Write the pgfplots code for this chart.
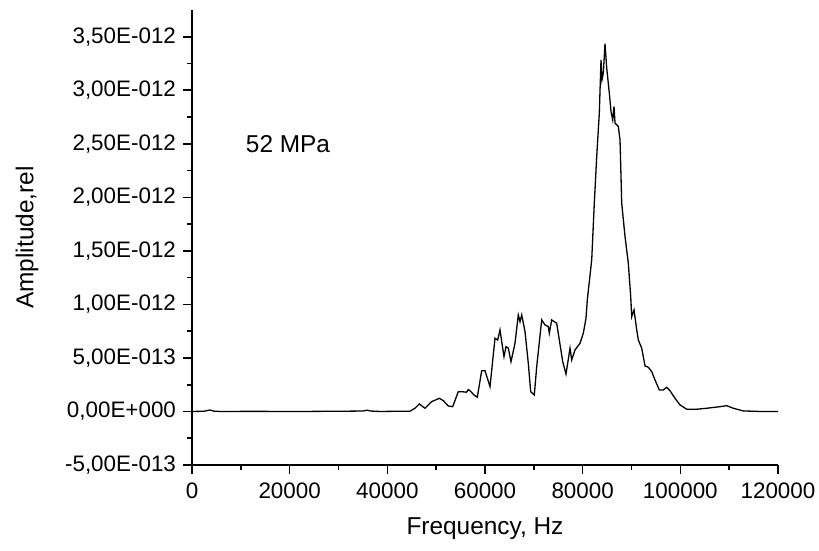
\documentclass[border=0pt]{standalone}
\usepackage{fontspec}
\setmainfont{Liberation Sans}
\usepackage{pgfplots}
\pgfplotsset{compat=1.18}
\begin{document}
\begin{tikzpicture}
\begin{axis}[name=ax,
 scale only axis, width=293pt, height=227.5pt,
 xmin=0, xmax=120000, ymin=-0.5, ymax=3.75,
 axis lines*=left,
 axis line style={line width=0.8pt},
 tick align=outside,
 major tick length=4.5pt, minor tick length=2.5pt,
 every tick/.style={line width=0.8pt, black},
 scaled x ticks=false, scaled y ticks=false,
 xtick={0,20000,40000,60000,80000,100000,120000},
 xticklabels={0,20000,40000,60000,80000,100000,120000},
 ytick={-0.5,0,0.5,1,1.5,2,2.5,3,3.5},
 yticklabels={{-5,00E-013},{0,00E+000},{5,00E-013},{1,00E-012},{1,50E-012},{2,00E-012},{2,50E-012},{3,00E-012},{3,50E-012}},
 minor x tick num=1, minor y tick num=1,
 ticklabel style={font=\fontsize{11.2}{13}\selectfont},
 xticklabel style={yshift=-1pt},
 label style={font=\fontsize{12.2}{14}\selectfont},
 ylabel style={yshift=6.5pt},
 xlabel style={yshift=-2.5pt},
 xlabel={Frequency, Hz}, ylabel={Amplitude,rel},
 clip=false,
]
\addplot[black, line width=0.65pt] coordinates {
(0,0) (2500,0.002) (3686,0.014) (4500,0.003) (5734,0) (12000,0.001) (22116,0) (30000,0.002)
(35000,0.004) (35836,0.012) (36600,0.004) (38500,0) (42594,0.002) (44642,0.003)
(45666,0.030) (46547,0.070) (47714,0.030) (49086,0.092) (50642,0.123) (51462,0.101)
(52485,0.051) (53386,0.045) (54533,0.185) (55229,0.185) (56200,0.180) (56600,0.205) (56929,0.194)
(57748,0.154) (58424,0.133) (59325,0.381) (60001,0.381) (61025,0.232) (62048,0.684)
(62601,0.668) (63072,0.762) (63420,0.652) (63891,0.512) (64301,0.606) (64772,0.591)
(65325,0.465) (66144,0.637) (66820,0.902) (67168,0.839) (67516,0.902) (68192,0.746)
(68868,0.450) (69359,0.185) (70096,0.154) (70588,0.419) (71612,0.855) (72288,0.808)
(72963,0.793) (73168,0.731) (73660,0.855) (74684,0.824) (75913,0.465) (76589,0.350)
(77408,0.591) (77756,0.481) (78432,0.575) (79456,0.637) (80131,0.731) (80684,0.871)
(80950,1.042) (81852,1.416) (82384,1.946) (82876,2.381) (83408,2.787) (83757,3.285)
(83961,3.098) (84228,3.161) (84576,3.435) (84924,3.207) (85457,2.974) (85805,2.802)
(86153,2.724) (86419,2.849) (86624,2.693) (87300,2.662) (87648,2.537) (87996,1.946)
(88672,1.634) (89348,1.385) (89839,1.073) (90044,0.886) (90515,0.949) (91068,0.762)
(91395,0.668) (92092,0.591) (92768,0.425) (93443,0.413) (94140,0.372) (94816,0.294)
(95696,0.201) (96515,0.201) (97212,0.226) (97887,0.194) (98911,0.123) (99935,0.061)
(101307,0.021) (103355,0.021) (105403,0.030) (108127,0.045) (109499,0.054) (110850,0.030)
(112898,0.005) (116316,0) (120000,0)
};
\node[anchor=west, font=\fontsize{12.2}{14}\selectfont] at (axis cs:9600,2.5) {52 MPa};
\end{axis}
\pgfresetboundingbox
\path[use as bounding box] ([shift={(-96pt,-43pt)}]ax.south west) rectangle ([shift={(313.5pt,232.5pt)}]ax.south west);
\end{tikzpicture}
\end{document}
